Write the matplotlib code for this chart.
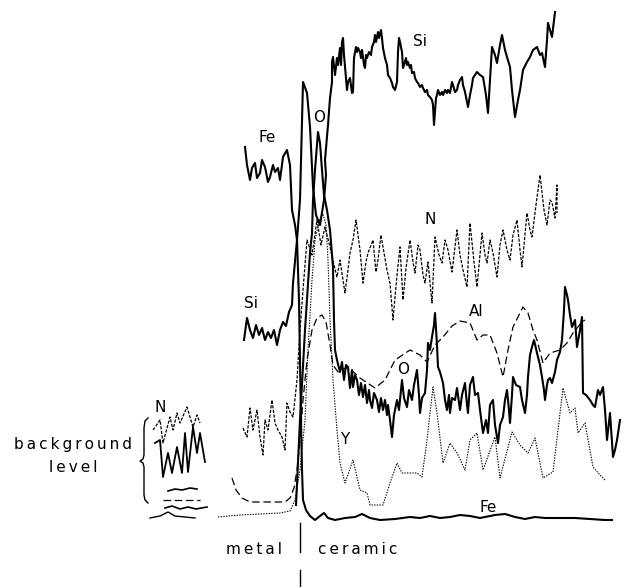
import matplotlib
matplotlib.use("Agg")
import matplotlib.pyplot as plt

# line-scan profiles (x = position, y = signal, image units, y grows downward)

# Fe (solid)
fe_x = [245, 247, 250, 252, 255, 257, 260, 262, 265, 268, 270, 273, 275, 278, 280, 283, 287, 290,
        292, 295, 297, 299, 300, 301, 302,
        303, 306, 310, 315, 320, 324, 328, 335, 345, 355, 362, 370, 380, 395, 410, 420, 430, 440,
        450, 460, 470, 480, 495, 505, 515, 525, 535, 545, 560, 575, 590, 605, 612]
fe_y = [147, 165, 180, 168, 163, 178, 173, 160, 167, 182, 177, 165, 172, 168, 180, 157, 150, 165,
        210, 225, 240, 300, 360, 420, 470,
        500, 510, 516, 520, 516, 513, 518, 520, 518, 517, 514, 518, 520, 519, 517, 518, 516, 518,
        517, 515, 516, 518, 515, 514, 517, 519, 517, 518, 518, 518, 519, 520, 520]

# Si (solid)
si_x = [244, 247, 250, 253, 256, 259, 262, 265, 268, 271, 274, 277, 280, 283, 286, 289, 292, 293,
        297, 300, 303, 307, 310, 313, 316, 320, 324, 326, 325, 328, 330, 332, 332, 333, 335, 337,
        338, 340, 341, 342, 343, 344, 346, 347, 348, 350, 352, 353, 354, 356, 357, 358, 360, 361,
        362, 364, 365, 366, 367, 369, 371, 372, 374, 375, 376, 378, 379, 381, 382, 383, 385, 387,
        388, 390, 392, 393, 395, 397, 398, 399, 400, 402, 403, 404, 406, 407, 408, 410, 411, 412,
        414, 415, 417, 418, 420, 422, 423, 425, 427, 428, 430, 432, 433, 434, 436, 437, 438, 440,
        442, 443, 445, 447, 448, 450, 452, 453, 455, 457, 458, 460, 462, 463, 465, 467, 468, 470,
        472, 473, 477, 480, 483, 486, 488, 490, 492, 495, 497, 500, 502, 505, 507, 510, 512, 515,
        518, 520, 523, 527, 530, 533, 537, 540, 542, 545, 547, 548, 550, 552, 554, 555]
si_y = [340, 318, 330, 338, 325, 335, 328, 340, 332, 338, 330, 345, 330, 322, 326, 312, 305, 283,
        240, 200, 82, 93, 127, 187, 215, 225, 200, 175, 160, 125, 98, 82, 62, 57, 75, 58,
        65, 48, 65, 42, 38, 55, 78, 90, 82, 78, 93, 92, 58, 47, 52, 48, 52, 58,
        50, 65, 68, 55, 58, 52, 55, 47, 42, 35, 42, 32, 38, 30, 38, 48, 58, 65,
        75, 78, 83, 87, 90, 82, 52, 38, 42, 52, 68, 65, 58, 65, 62, 68, 65, 73,
        72, 78, 82, 83, 87, 85, 88, 92, 90, 95, 97, 100, 105, 125, 98, 95, 90, 95,
        92, 95, 90, 93, 90, 93, 82, 85, 92, 90, 85, 80, 77, 85, 92, 102, 107, 95,
        85, 78, 72, 75, 77, 95, 113, 80, 47, 55, 63, 45, 35, 50, 57, 67, 90, 117,
        100, 90, 70, 62, 57, 50, 47, 55, 53, 67, 40, 23, 30, 37, 20, 12]

# O (solid)
o_x = [296, 300, 305, 310, 312, 313, 315, 317, 318, 320, 322, 324, 327, 330, 333, 334, 335, 337,
       340, 342, 344, 346, 348, 350, 352, 353, 355, 357, 359, 361, 363, 365, 367, 369, 370, 372,
       374, 377, 379, 381, 383, 385, 387, 388, 390, 392, 394, 397, 399, 402, 404, 407, 409, 412,
       414, 417, 419, 420, 422, 425, 427, 428, 430, 432, 434, 435, 437, 438, 440, 443, 445, 447,
       449, 450, 452, 455, 457, 460, 462, 465, 467, 468, 470, 473, 475, 478, 480, 483, 486, 488,
       490, 493, 495, 498, 500, 503, 505, 507, 509, 510, 512, 513, 516, 520, 522, 525, 527, 528,
       530, 532, 534, 537, 540, 542, 544, 545, 547, 548, 550, 552, 555, 557, 560, 562, 564, 565,
       567, 568, 570, 572, 575, 577, 580, 582, 583, 586, 590, 593, 595, 598, 600, 603, 605, 607,
       610, 613, 615, 617, 620]
o_y = [505, 420, 330, 253, 233, 200, 170, 145, 132, 143, 170, 195, 210, 230, 267, 320, 350, 360,
       372, 362, 380, 365, 367, 388, 370, 387, 375, 380, 395, 383, 397, 385, 403, 390, 400, 408,
       393, 400, 412, 398, 410, 400, 415, 405, 420, 437, 415, 400, 410, 380, 398, 407, 390, 400,
       385, 370, 395, 413, 398, 393, 370, 343, 350, 337, 325, 313, 345, 367, 372, 383, 400, 410,
       395, 413, 398, 400, 388, 410, 395, 383, 405, 413, 385, 377, 395, 393, 410, 433, 420, 433,
       405, 400, 425, 443, 425, 417, 400, 390, 410, 423, 395, 377, 385, 387, 400, 413, 395, 377,
       355, 347, 340, 353, 365, 377, 390, 400, 385, 380, 378, 383, 372, 360, 352, 340, 310, 287,
       295, 300, 315, 327, 320, 347, 330, 317, 393, 395, 400, 405, 407, 390, 395, 387, 410, 440,
       413, 457, 450, 440, 420]

# N (short dashes)
n_x = [243, 247, 250, 253, 257, 260, 263, 265, 268, 272, 275, 278, 282, 285, 287, 290, 293, 297,
       300, 303, 307, 312, 317, 321, 325, 330, 334, 337, 340, 343, 345, 348, 350, 353, 356, 360,
       363, 366, 368, 373, 376, 378, 381, 383, 387, 390, 393, 397, 400, 403, 406, 410, 413, 415,
       418, 420, 423, 425, 428, 432, 435, 439, 442, 445, 448, 452, 457, 460, 463, 467, 470, 474,
       477, 482, 485, 487, 490, 493, 497, 500, 503, 507, 510, 513, 517, 520, 522, 527, 530, 532,
       536, 540, 544, 547, 550, 552, 555, 557, 557]
n_y = [428, 437, 408, 430, 410, 437, 455, 420, 430, 400, 423, 430, 437, 450, 403, 412, 417, 380,
       330, 290, 240, 255, 220, 245, 227, 247, 265, 277, 260, 280, 293, 270, 253, 240, 220, 250,
       283, 262, 253, 240, 272, 260, 235, 247, 270, 283, 320, 275, 247, 300, 268, 240, 262, 273,
       245, 250, 275, 283, 262, 303, 237, 255, 263, 240, 250, 272, 230, 255, 270, 287, 223, 262,
       287, 233, 255, 263, 240, 253, 277, 245, 230, 250, 260, 235, 220, 250, 267, 213, 230, 237,
       205, 175, 210, 225, 200, 202, 218, 185, 213]

# Al (long dashes)
al_x = [232, 236, 242, 250, 285, 290, 294, 297, 300, 303, 307, 312, 317, 322, 326, 330, 333, 338,
        348, 360, 375, 385, 395, 410, 420, 427, 435, 443, 452, 460, 470, 477, 483, 490, 497, 503,
        508, 513, 523, 528, 533, 537, 543, 550, 560, 567, 573, 582, 585]
al_y = [478, 490, 498, 502, 502, 498, 488, 470, 440, 400, 360, 330, 318, 315, 322, 345, 365, 372,
        367, 378, 388, 380, 360, 350, 355, 362, 345, 337, 326, 321, 323, 340, 335, 335, 353, 377,
        350, 327, 307, 313, 330, 340, 363, 353, 350, 343, 333, 322, 320]

# Y (dotted)
y_x = [218, 240, 260, 280, 290, 295, 300, 305, 308, 312, 315, 320, 323, 326, 328, 330, 333, 337,
       340, 345, 353, 360, 367, 370, 383, 390, 397, 402, 417, 422, 427, 433, 437, 443, 450, 457,
       465, 470, 477, 483, 495, 500, 512, 520, 528, 535, 543, 553, 563, 570, 575, 578, 585, 593,
       600, 605]
y_y = [517, 515, 514, 513, 511, 500, 470, 420, 350, 280, 240, 218, 214, 225, 260, 320, 380, 430,
       463, 483, 460, 490, 493, 505, 505, 483, 463, 473, 473, 477, 440, 387, 413, 463, 443, 453,
       470, 440, 433, 470, 437, 478, 432, 445, 453, 438, 478, 472, 388, 413, 408, 433, 423, 467,
       475, 480]

# background level inset
bg_n_x = [153, 160, 163, 170, 173, 177, 180, 187, 190, 193, 197, 200]
bg_n_y = [430, 420, 443, 417, 430, 413, 423, 407, 417, 427, 415, 423]
bg_si_x = [155, 160, 163, 168, 172, 177, 182, 185, 188, 193, 197, 200, 205]
bg_si_y = [443, 440, 477, 453, 473, 447, 473, 433, 472, 427, 453, 433, 462]
bg_fe_x = [168, 175, 182, 190, 197]
bg_fe_y = [491, 489, 490, 488, 489]
bg_al_x = [163, 200]
bg_al_y = [500, 500]
bg_o_x = [165, 172, 180, 188, 196, 207]
bg_o_y = [508, 506, 509, 507, 509, 507]
bg_y_x = [150, 160, 168, 175, 185, 195]
bg_y_y = [518, 516, 512, 516, 517, 518]

fig = plt.figure(figsize=(6.26, 5.87), dpi=100)
ax = fig.add_axes([0, 0, 1, 1])
ax.set_xlim(0, 626)
ax.set_ylim(587, 0)
ax.axis("off")

k = "black"
ax.plot(fe_x, fe_y, color=k, lw=1.5)
ax.plot(si_x, si_y, color=k, lw=1.5)
ax.plot(o_x, o_y, color=k, lw=1.5)
ax.plot(n_x, n_y, color=k, lw=0.9, dashes=(2.5, 1.2))
ax.plot(al_x, al_y, color=k, lw=0.9, dashes=(6, 3))
ax.plot(y_x, y_y, color=k, lw=0.8, dashes=(1.2, 1.2))

ax.plot(bg_n_x, bg_n_y, color=k, lw=0.9, dashes=(2.5, 1.2))
ax.plot(bg_si_x, bg_si_y, color=k, lw=1.3)
ax.plot(bg_fe_x, bg_fe_y, color=k, lw=1.2)
ax.plot(bg_al_x, bg_al_y, color=k, lw=0.9, dashes=(6, 3))
ax.plot(bg_o_x, bg_o_y, color=k, lw=1.2)
ax.plot(bg_y_x, bg_y_y, color=k, lw=1.0)

# curly bracket for the background level, and interface mark
ax.plot([148, 145, 144, 144, 143, 140, 143, 144, 144, 145, 148],
        [418, 421, 428, 455, 459, 461, 463, 467, 495, 500, 503], color=k, lw=1.0)
ax.plot([300, 300], [523, 552], color=k, lw=1.0)
ax.plot([300, 300], [570, 587], color=k, lw=1.0)

fs = 11
labels = [("Si", 420, 42), ("Fe", 267, 137), ("O", 319, 117), ("N", 430, 220),
          ("Si", 251, 303), ("Al", 476, 312), ("O", 403, 370), ("Y", 345, 440),
          ("Fe", 488, 507), ("N", 160, 408)]
for s, x, y in labels:
    ax.text(x, y, s, fontsize=fs, ha="center", va="center", color=k)


def spaced(s):
    return "\u2009".join(s)


ax.text(73, 445, spaced("background"), fontsize=fs, ha="center", va="center")
ax.text(73, 468, spaced("level"), fontsize=fs, ha="center", va="center")
ax.text(254, 549, spaced("metal"), fontsize=fs, ha="center", va="center")
ax.text(358, 549, spaced("ceramic"), fontsize=fs, ha="center", va="center")

fig.savefig("out.png", dpi=100)
